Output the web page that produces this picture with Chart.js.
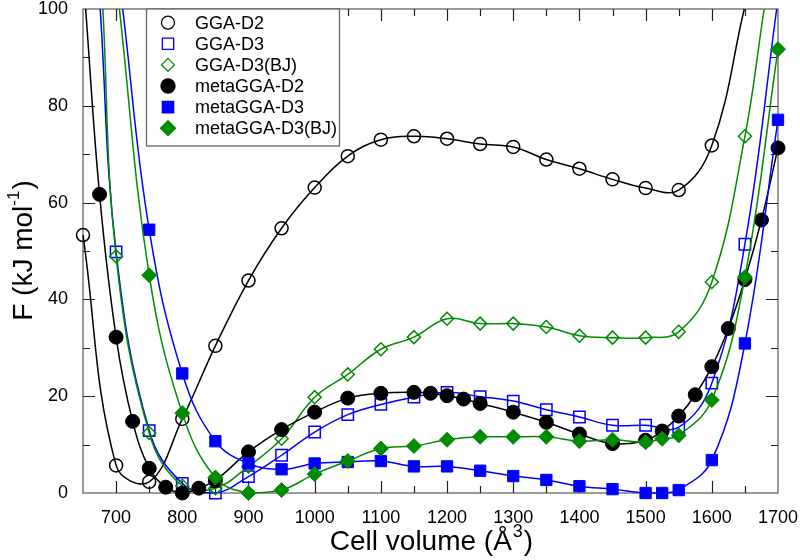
<!DOCTYPE html>
<html>
<head>
<meta charset="utf-8">
<script src="https://cdn.jsdelivr.net/npm/chart.js@4/dist/chart.umd.min.js"></script>
<style>
  body { margin: 0; background: #fff; }
  canvas { display: block; }
</style>
</head>
<body>
<canvas id="grafico" width="800" height="560"></canvas>
<script>
// === DADOS ===
const seriesNames = ['GGA-D2', 'GGA-D3', 'GGA-D3(BJ)', 'metaGGA-D2', 'metaGGA-D3', 'metaGGA-D3(BJ)'];

const ggaD2Vol = [650, 700, 750, 800, 850, 900, 950, 1000, 1050, 1100, 1150, 1200, 1250, 1300, 1350, 1400, 1450, 1500, 1550, 1600];
const ggaD2F   = [53.3, 5.7, 2.3, 15.3, 30.4, 43.9, 54.7, 63.1, 69.6, 73.0, 73.7, 73.2, 72.1, 71.5, 68.9, 67.0, 64.8, 63.0, 62.6, 71.8];

const ggaD3Vol = [700, 750, 800, 850, 900, 950, 1000, 1050, 1100, 1150, 1200, 1250, 1300, 1350, 1400, 1450, 1500, 1550, 1600, 1650];
const ggaD3F   = [49.8, 12.9, 2.0, 0.0, 3.4, 7.8, 12.6, 16.2, 18.3, 19.8, 20.8, 19.9, 19.0, 17.2, 15.7, 14.0, 14.0, 13.6, 22.7, 51.4];

const ggaBJVol = [700, 750, 800, 850, 900, 950, 1000, 1050, 1100, 1150, 1200, 1250, 1300, 1350, 1400, 1450, 1500, 1550, 1600, 1650];
const ggaBJF   = [48.9, 12.4, 1.5, 1.0, 5.5, 11.2, 19.8, 24.5, 29.7, 32.2, 36.0, 35.0, 35.0, 34.3, 32.5, 32.1, 32.1, 33.3, 43.6, 73.7];

const metaD2Vol = [675, 700, 725, 750, 775, 800, 825, 850, 900, 950, 1000, 1050, 1100, 1150, 1175, 1200, 1225, 1250, 1300, 1350, 1400, 1450, 1500, 1525, 1550, 1575, 1600, 1625, 1650, 1675, 1700];
const metaD2F   = [61.7, 32.2, 14.8, 5.1, 1.2, 0.0, 1.0, 2.6, 8.5, 13.1, 16.7, 19.6, 20.6, 20.8, 20.6, 20.1, 19.4, 18.5, 16.7, 14.6, 12.2, 10.2, 10.9, 12.8, 15.9, 20.3, 26.1, 34.0, 44.1, 56.4, 71.3];

const metaD3Vol = [750, 800, 850, 900, 950, 1000, 1050, 1100, 1150, 1200, 1250, 1300, 1350, 1400, 1450, 1500, 1525, 1550, 1600, 1650, 1700];
const metaD3F   = [54.4, 24.7, 10.7, 6.1, 4.9, 6.1, 6.4, 6.6, 5.5, 5.5, 4.6, 3.5, 2.7, 1.4, 0.8, 0.0, 0.0, 0.6, 6.8, 30.9, 77.1];

const metaBJVol = [750, 800, 850, 900, 950, 1000, 1050, 1100, 1150, 1200, 1250, 1300, 1350, 1400, 1450, 1500, 1525, 1550, 1600, 1650, 1700];
const metaBJF   = [45.0, 16.5, 3.2, 0.0, 0.6, 3.9, 6.6, 9.2, 9.7, 11.0, 11.6, 11.6, 11.6, 10.7, 11.0, 10.5, 11.2, 11.9, 19.2, 44.6, 91.7];

// volume onde cada curva ajustada sai pelo topo do quadro (F = 100)
const curveEnterX = [null, 676, 680, 654, 710, 705];
const curveExitX  = [1649, 1698, 1679, null, null, null];

const xTicks = [700, 800, 900, 1000, 1100, 1200, 1300, 1400, 1500, 1600, 1700];
const yTicks = [0, 20, 40, 60, 80, 100];

// === ESTILOS ===
const VERDE = 'rgb(0,139,0)';
const estilos = [
  { cor: '#000',  forma: 'circle',  raio: 6.5, cheio: false },
  { cor: '#00f',  forma: 'rect',    raio: 8,   cheio: false },
  { cor: VERDE,   forma: 'rectRot', raio: 6.5, cheio: false },
  { cor: '#000',  forma: 'circle',  raio: 7,   cheio: true },
  { cor: '#00f',  forma: 'rect',    raio: 8,   cheio: true },
  { cor: VERDE,   forma: 'rectRot', raio: 7.5, cheio: true }
];

const vols = [ggaD2Vol, ggaD3Vol, ggaBJVol, metaD2Vol, metaD3Vol, metaBJVol];
const efs  = [ggaD2F, ggaD3F, ggaBJF, metaD2F, metaD3F, metaBJF];

function montarPontos(i) {
  const pts = vols[i].map((v, k) => ({ x: v, y: efs[i][k] }));
  if (curveEnterX[i] !== null) pts.unshift({ x: curveEnterX[i], y: 100, borda: true });
  if (curveExitX[i] !== null) pts.push({ x: curveExitX[i], y: 100, borda: true });
  return pts;
}

Chart.defaults.font.family = '"Liberation Sans", Arial, sans-serif';

// === MOLDURA, TRACINHOS, TÍTULOS E LEGENDA ===
const moldura = {
  id: 'moldura',
  beforeDatasetsDraw(chart) {
    const { ctx, chartArea: a, scales: { x, y } } = chart;
    ctx.save();
    ctx.strokeStyle = '#666';
    ctx.lineWidth = 1.3;
    ctx.strokeRect(a.left, a.top, a.right - a.left, a.bottom - a.top);

    ctx.strokeStyle = '#222';
    ctx.lineWidth = 1.2;
    ctx.beginPath();
    for (let v = 700; v < 1700; v += 50) {
      const px = Math.round(x.getPixelForValue(v)) + 0.5;
      const len = xTicks.includes(v) ? 12 : 7;
      ctx.moveTo(px, a.bottom); ctx.lineTo(px, a.bottom - len);
      ctx.moveTo(px, a.top); ctx.lineTo(px, a.top + len);
    }
    for (let v = 10; v < 100; v += 10) {
      const py = Math.round(y.getPixelForValue(v)) + 0.5;
      const len = yTicks.includes(v) ? 12 : 7;
      ctx.moveTo(a.left, py); ctx.lineTo(a.left + len, py);
      ctx.moveTo(a.right, py); ctx.lineTo(a.right - len, py);
    }
    ctx.stroke();

    // título do eixo X
    ctx.fillStyle = '#000';
    ctx.textBaseline = 'alphabetic';
    ctx.textAlign = 'left';
    const t1 = 'Cell volume (Å', t2 = '3', t3 = ')';
    ctx.font = '28px "Liberation Sans"';
    const w1 = ctx.measureText(t1).width, w3 = ctx.measureText(t3).width;
    ctx.font = '18px "Liberation Sans"';
    const w2 = ctx.measureText(t2).width;
    let sx = (a.left + a.right) / 2 - (w1 + w2 + w3) / 2;
    ctx.font = '28px "Liberation Sans"';
    ctx.fillText(t1, sx, 550);
    ctx.font = '18px "Liberation Sans"';
    ctx.fillText(t2, sx + w1 + 1, 537);
    ctx.font = '28px "Liberation Sans"';
    ctx.fillText(t3, sx + w1 + w2 + 2, 550);

    // título do eixo Y
    ctx.translate(32, (a.top + a.bottom) / 2);
    ctx.rotate(-Math.PI / 2);
    const u1 = 'F (kJ mol', u2 = '-1', u3 = ')';
    ctx.font = '28px "Liberation Sans"';
    const v1 = ctx.measureText(u1).width, v3 = ctx.measureText(u3).width;
    ctx.font = '17px "Liberation Sans"';
    const v2 = ctx.measureText(u2).width;
    sx = -(v1 + v2 + v3) / 2;
    ctx.font = '28px "Liberation Sans"';
    ctx.fillText(u1, sx, 0);
    ctx.font = '17px "Liberation Sans"';
    ctx.fillText(u2, sx + v1, -13);
    ctx.font = '28px "Liberation Sans"';
    ctx.fillText(u3, sx + v1 + v2 + 1, 0);
    ctx.restore();
  },
  afterDatasetsDraw(chart) {
    const { ctx, chartArea: a } = chart;
    ctx.save();
    const bx = 146, by = a.top, bw = 193, bh = 137;
    ctx.fillStyle = '#fff';
    ctx.fillRect(bx, by, bw, bh);
    ctx.strokeStyle = '#666';
    ctx.lineWidth = 1.3;
    ctx.strokeRect(bx + 0.5, by, bw, bh);
    ctx.font = '18px "Liberation Sans"';
    ctx.textBaseline = 'middle';
    seriesNames.forEach((nome, i) => {
      const e = estilos[i];
      const cy = 22.7 + i * 21.1;
      ctx.strokeStyle = e.cor;
      ctx.fillStyle = e.cheio ? e.cor : '#fff';
      Chart.helpers.drawPoint(ctx, {
        pointStyle: e.forma, radius: e.raio, rotation: 0, borderWidth: e.cheio ? 1 : 1.5
      }, 168, cy);
      ctx.fillStyle = '#000';
      ctx.fillText(nome, 195, cy + 1);
    });
    ctx.restore();
  }
};

// === GRÁFICO ===
new Chart(document.getElementById('grafico'), {
  type: 'line',
  data: {
    datasets: seriesNames.map((nome, i) => ({
      label: nome,
      data: montarPontos(i),
      borderColor: estilos[i].cor,
      backgroundColor: estilos[i].cheio ? estilos[i].cor : 'rgba(0,0,0,0)',
      borderWidth: 1.5,
      pointStyle: estilos[i].forma,
      pointRadius: c => (c.raw && c.raw.borda) ? 0 : estilos[i].raio,
      pointBorderWidth: estilos[i].cheio ? 1 : 1.5,
      tension: 0.4,
      fill: false,
      clip: false,
      order: seriesNames.length - i
    }))
  },
  options: {
    responsive: false,
    animation: false,
    events: [],
    layout: { padding: { top: 7, right: 22, left: 0, bottom: 0 } },
    scales: {
      x: {
        type: 'linear', min: 650, max: 1700,
        grid: { display: false }, border: { display: false },
        ticks: { padding: 6, color: '#000', font: { size: 18 }, maxRotation: 0, autoSkip: false,
                 callback: v => String(v) },
        afterBuildTicks: s => { s.ticks = xTicks.map(v => ({ value: v })); },
        afterFit: s => { s.height = 67; s.paddingLeft = 0; s.paddingRight = 0; }
      },
      y: {
        type: 'linear', min: 0, max: 100,
        grid: { display: false }, border: { display: false },
        ticks: { padding: 7, color: '#000', font: { size: 18 }, callback: v => String(v) },
        afterBuildTicks: s => { s.ticks = yTicks.map(v => ({ value: v })); },
        afterFit: s => { s.width = 83; s.paddingTop = 0; s.paddingBottom = 0; }
      }
    },
    plugins: { legend: { display: false }, tooltip: { enabled: false } }
  },
  plugins: [moldura]
});
</script>
</body>
</html>
